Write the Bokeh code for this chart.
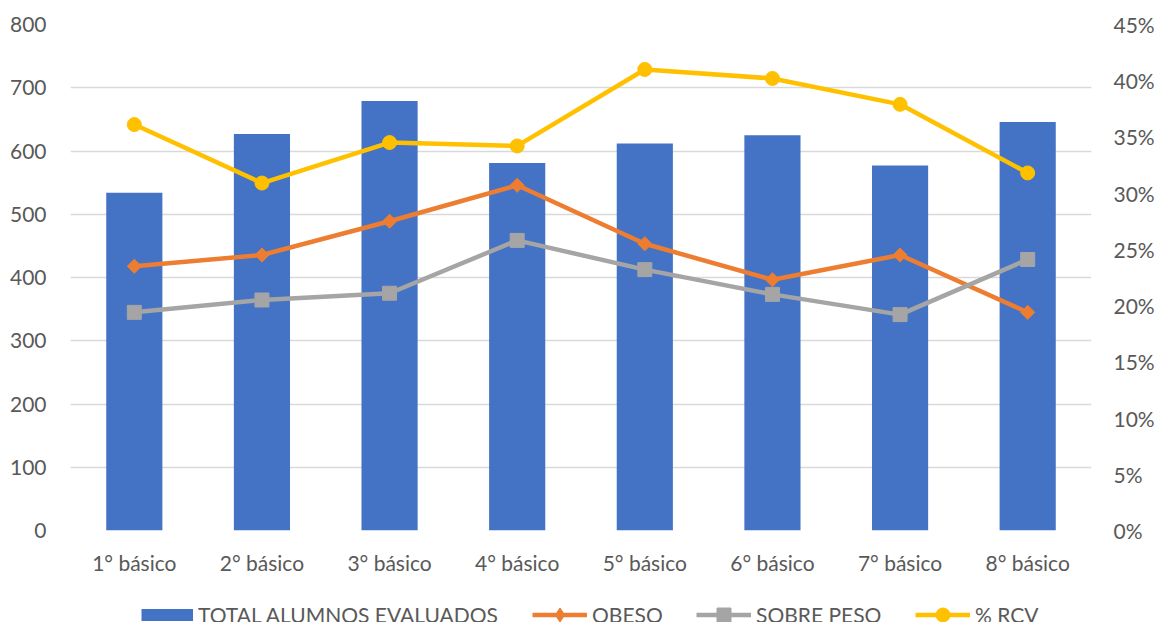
from bokeh.plotting import figure
from bokeh.layouts import column
from bokeh.models import (FactorRange, Range1d, LinearAxis, FixedTicker,
                          NumeralTickFormatter, Legend, LegendItem)
from bokeh.embed import file_html
from bokeh.resources import INLINE

# Data per school grade
grades = ["1° básico", "2° básico", "3° básico", "4° básico",
          "5° básico", "6° básico", "7° básico", "8° básico"]
total_evaluados = [534, 627, 679, 581, 612, 625, 577, 646]
obeso = [0.235, 0.245, 0.275, 0.307, 0.255, 0.223, 0.245, 0.194]
sobre_peso = [0.194, 0.205, 0.211, 0.258, 0.232, 0.210, 0.192, 0.241]
rcv = [0.361, 0.309, 0.345, 0.342, 0.410, 0.402, 0.379, 0.318]

left_ticks = [0, 100, 200, 300, 400, 500, 600, 700, 800]
right_ticks = [0, 0.05, 0.10, 0.15, 0.20, 0.25, 0.30, 0.35, 0.40, 0.45]

FONT = "Lato"
TEXT = "#595959"
SIZE = "21px"
BLUE, ORANGE, GREY, GOLD = "#4472C4", "#ED7D31", "#A5A5A5", "#FFC000"
DIAMOND_ANGLE = 0.785398  # square turned 45°

p = figure(width=1158, height=600,
           x_range=FactorRange(*grades, range_padding=0),
           y_range=Range1d(0, 800),
           output_backend="svg", toolbar_location=None,
           min_border_left=70, min_border_right=67,
           min_border_top=24, min_border_bottom=70)
p.outline_line_color = None
p.extra_y_ranges = {"pct": Range1d(0, 0.45)}

# grid
p.xgrid.grid_line_color = None
p.ygrid.ticker = FixedTicker(ticks=left_ticks)
p.ygrid.grid_line_color = "#d9d9d9"
p.ygrid.grid_line_width = 1.3

def style_axis(ax):
    ax.axis_line_color = None
    ax.major_tick_line_color = None
    ax.minor_tick_line_color = None
    ax.major_tick_in = 0
    ax.major_tick_out = 0
    ax.major_label_text_font = FONT
    ax.major_label_text_font_size = SIZE
    ax.major_label_text_color = TEXT

style_axis(p.xaxis[0])
p.xaxis[0].major_label_standoff = 19
style_axis(p.yaxis[0])
p.yaxis[0].ticker = FixedTicker(ticks=left_ticks)
p.yaxis[0].major_label_standoff = 24

right = LinearAxis(y_range_name="pct", ticker=FixedTicker(ticks=right_ticks),
                   formatter=NumeralTickFormatter(format="0%"))
style_axis(right)
right.major_label_standoff = 22
p.add_layout(right, "right")

# bars on the left axis, percentage lines on the right axis
p.vbar(x=grades, top=total_evaluados, width=0.44, fill_color=BLUE, line_color=None)

def series(fig, values, color, marker, size, angle=0.0):
    ln = fig.line(grades, values, y_range_name="pct", line_color=color, line_width=4.5)
    mk = fig.scatter(grades, values, y_range_name="pct", marker=marker, angle=angle,
                     size=size, fill_color=color, line_color=color)
    return [ln, mk]

series(p, obeso, ORANGE, "square", 10, DIAMOND_ANGLE)
series(p, sobre_peso, GREY, "square", 14)
series(p, rcv, GOLD, "circle", 14)

# legend strip below the chart (its key renderers fall outside the strip's view)
leg = figure(width=1158, height=22,
             x_range=FactorRange(*grades), y_range=Range1d(5000, 5001),
             output_backend="svg", toolbar_location=None,
             x_axis_type=None, y_axis_type=None,
             min_border_left=0, min_border_right=0,
             min_border_top=0, min_border_bottom=0)
leg.outline_line_color = None
leg.xgrid.grid_line_color = None
leg.ygrid.grid_line_color = None
leg.extra_y_ranges = {"pct": Range1d(5000, 5001)}

# a thick flat stroke gives the bar key its block shape
bar_key = [leg.line(grades, total_evaluados, line_color=BLUE, line_width=12)]
obeso_key = series(leg, obeso, ORANGE, "diamond", 14)
sobre_key = series(leg, sobre_peso, GREY, "square", 14)
rcv_key = series(leg, rcv, GOLD, "circle", 14)

def make_legend(label, renderers, x, gw):
    lg = Legend(items=[LegendItem(label=label, renderers=renderers)],
                location=(x, -9.5), orientation="horizontal",
                glyph_width=gw, glyph_height=35, label_standoff=5,
                padding=0, margin=0, spacing=0,
                border_line_color=None, background_fill_alpha=0,
                label_text_font=FONT, label_text_font_size=SIZE,
                label_text_color=TEXT)
    leg.add_layout(lg, "center")

make_legend("TOTAL ALUMNOS EVALUADOS", bar_key, 71, 52)
make_legend("OBESO", obeso_key, 462, 55)
make_legend("SOBRE PESO", sobre_key, 626, 55)
make_legend("% RCV", rcv_key, 845, 55)

layout = column(p, leg, spacing=0)
open("out.html", "w").write(file_html(layout, INLINE))
